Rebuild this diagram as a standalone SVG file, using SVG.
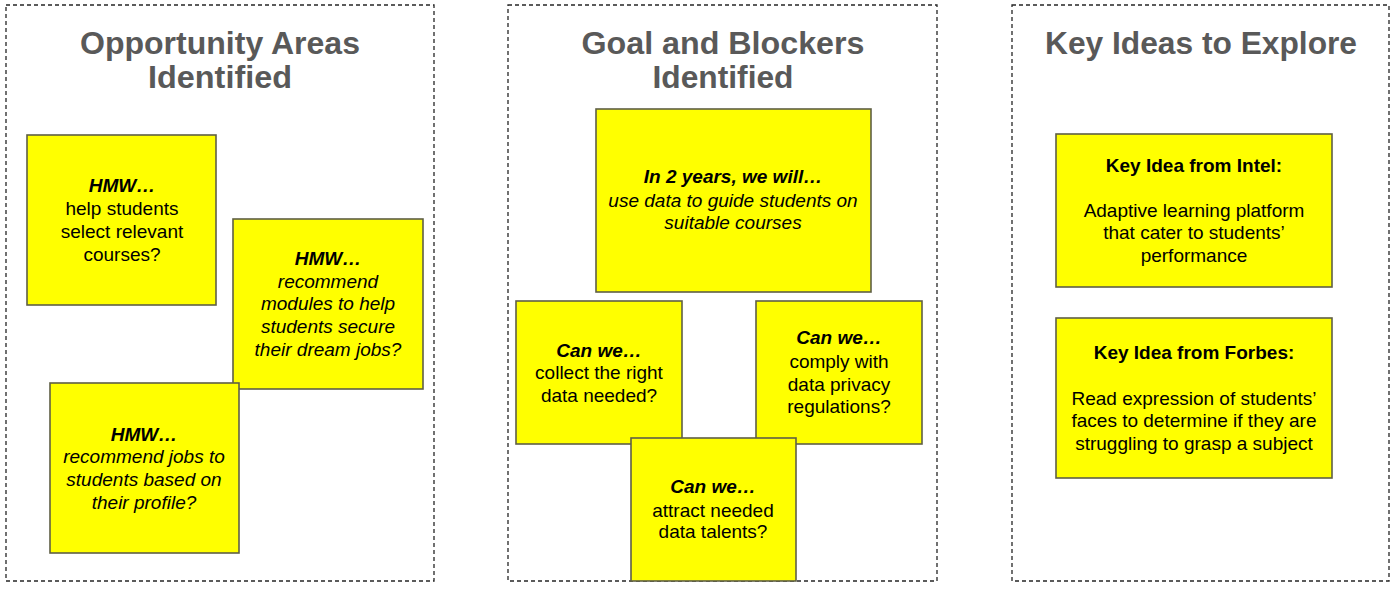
<svg xmlns="http://www.w3.org/2000/svg" width="1400" height="593" viewBox="0 0 1400 593">
<style>
.panel{fill:#fff;stroke:#262626;stroke-width:1.3;stroke-dasharray:4,3}
.note{fill:#ffff00;stroke:#5f5f45;stroke-width:1.6}
.title{font-family:"Liberation Sans",Arial,sans-serif;font-weight:bold;font-size:31px;fill:#595959;text-anchor:middle}
.t{font-family:"Liberation Sans",Arial,sans-serif;font-size:19px;fill:#000;text-anchor:middle}
.bi{font-weight:bold;font-style:italic}
.i{font-style:italic}
.b{font-weight:bold}
</style>
<rect width="1400" height="593" fill="#fff"/>
<g id="panel-opportunity">
<rect class="panel" x="6" y="5" width="428" height="576"/>
<text class="title" x="220" y="54" textLength="280" lengthAdjust="spacingAndGlyphs">Opportunity Areas</text>
<text class="title" x="220" y="88" textLength="144" lengthAdjust="spacingAndGlyphs">Identified</text>
</g>
<g id="panel-goal">
<rect class="panel" x="508" y="5" width="429" height="576"/>
<text class="title" x="723" y="54" textLength="283" lengthAdjust="spacingAndGlyphs">Goal and Blockers</text>
<text class="title" x="723" y="88" textLength="141" lengthAdjust="spacingAndGlyphs">Identified</text>
</g>
<g id="panel-ideas">
<rect class="panel" x="1012" y="5" width="377" height="576"/>
<text class="title" x="1201" y="54" textLength="312" lengthAdjust="spacingAndGlyphs">Key Ideas to Explore</text>
</g>
<g id="connectors"></g>
<g id="hmw-courses">
<rect class="note" x="27" y="135" width="189" height="170"/>
<text class="t" x="122"><tspan class="bi" x="122" y="192">HMW…</tspan><tspan x="122" y="215">help students</tspan><tspan x="122" y="238">select relevant</tspan><tspan x="122" y="261">courses?</tspan></text>
</g>
<g id="hmw-modules">
<rect class="note" x="233" y="219" width="190" height="170"/>
<text class="t" x="328"><tspan class="bi" x="328" y="265">HMW…</tspan><tspan class="i" x="328" y="288">recommend</tspan><tspan class="i" x="328" y="310">modules to help</tspan><tspan class="i" x="328" y="333">students secure</tspan><tspan class="i" x="328" y="356">their dream jobs?</tspan></text>
</g>
<g id="hmw-jobs">
<rect class="note" x="50" y="383" width="189" height="170"/>
<text class="t" x="144"><tspan class="bi" x="144" y="441">HMW…</tspan><tspan class="i" x="144" y="463">recommend jobs to</tspan><tspan class="i" x="144" y="486">students based on</tspan><tspan class="i" x="144" y="509">their profile?</tspan></text>
</g>
<g id="goal">
<rect class="note" x="596" y="109" width="275" height="183"/>
<text class="t" x="733"><tspan class="bi" x="733" y="183">In 2 years, we will…</tspan><tspan class="i" x="733" y="207">use data to guide students on</tspan><tspan class="i" x="733" y="229">suitable courses</tspan></text>
</g>
<g id="blocker-data">
<rect class="note" x="516" y="301" width="166" height="143"/>
<text class="t" x="599"><tspan class="bi" x="599" y="357">Can we…</tspan><tspan x="599" y="379">collect the right</tspan><tspan x="599" y="402">data needed?</tspan></text>
</g>
<g id="blocker-privacy">
<rect class="note" x="756" y="301" width="166" height="143"/>
<text class="t" x="839"><tspan class="bi" x="839" y="344">Can we…</tspan><tspan x="839" y="368">comply with</tspan><tspan x="839" y="391">data privacy</tspan><tspan x="839" y="413">regulations?</tspan></text>
</g>
<g id="blocker-talent">
<rect class="note" x="631" y="438" width="165" height="143"/>
<text class="t" x="713"><tspan class="bi" x="713" y="493">Can we…</tspan><tspan x="713" y="517">attract needed</tspan><tspan x="713" y="538">data talents?</tspan></text>
</g>
<g id="idea-intel">
<rect class="note" x="1056" y="134" width="276" height="153"/>
<text class="t" x="1194"><tspan class="b" x="1194" y="172">Key Idea from Intel:</tspan><tspan x="1194" y="217">Adaptive learning platform</tspan><tspan x="1194" y="239">that cater to students’</tspan><tspan x="1194" y="262">performance</tspan></text>
</g>
<g id="idea-forbes">
<rect class="note" x="1056" y="318" width="276" height="160"/>
<text class="t" x="1194"><tspan class="b" x="1194" y="359">Key Idea from Forbes:</tspan><tspan x="1194" y="405">Read expression of students’</tspan><tspan x="1194" y="427">faces to determine if they are</tspan><tspan x="1194" y="450">struggling to grasp a subject</tspan></text>
</g>
</svg>
